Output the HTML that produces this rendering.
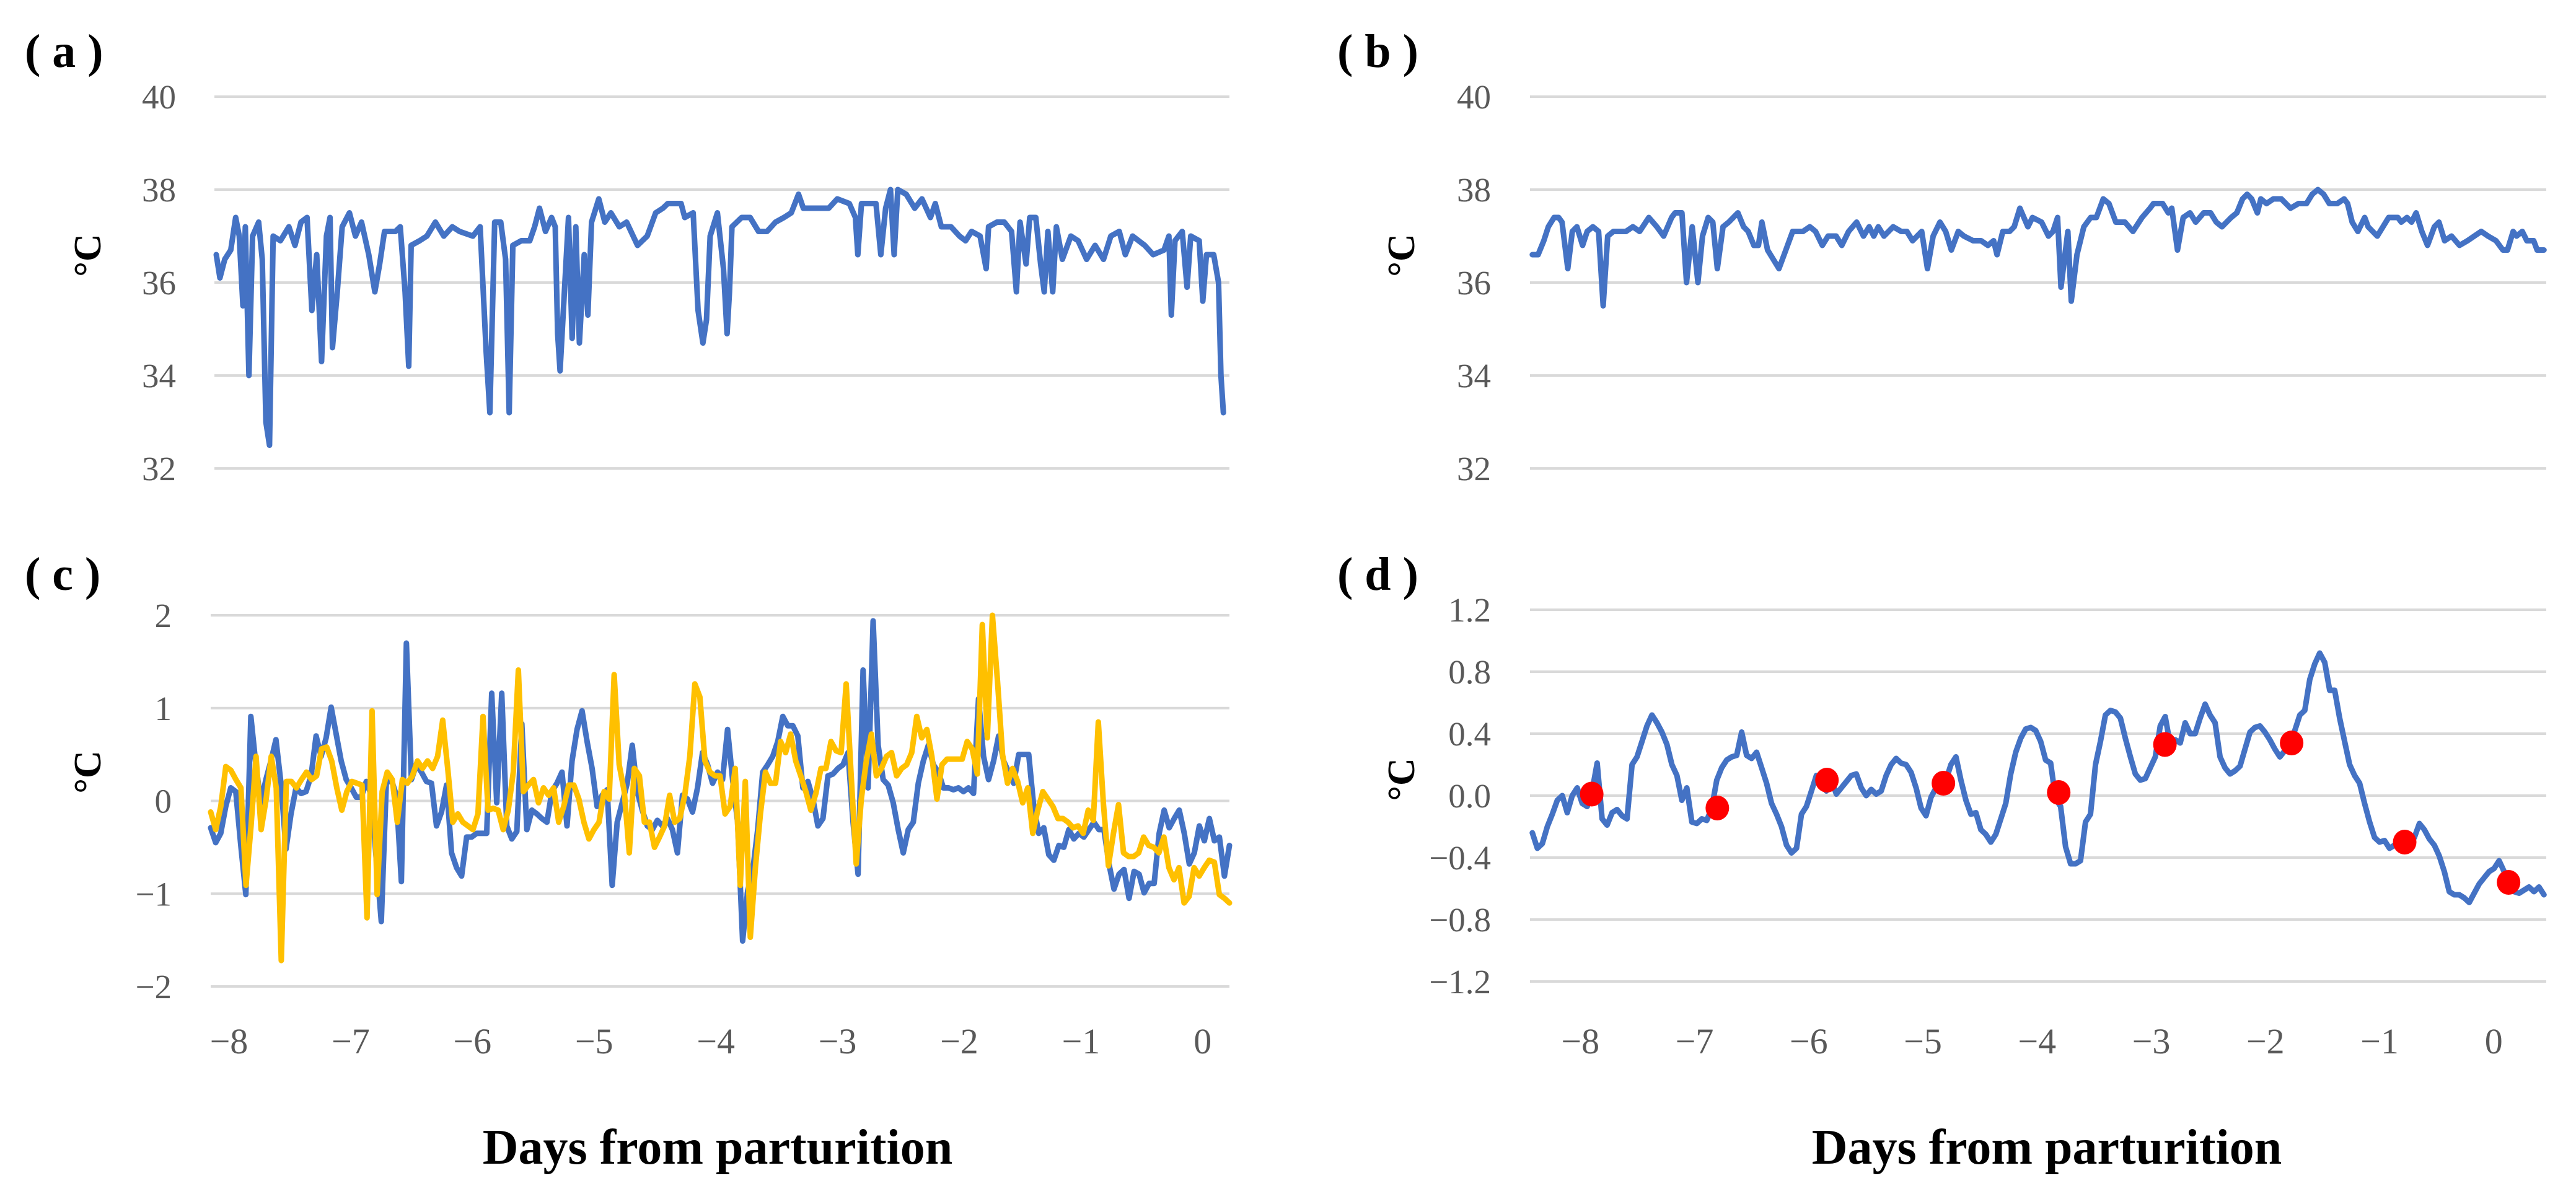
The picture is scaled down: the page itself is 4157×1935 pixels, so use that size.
<!DOCTYPE html>
<html><head><meta charset="utf-8">
<style>
html,body{margin:0;padding:0;background:#fff;}
svg{display:block;}
text{font-family:"Liberation Serif",serif;}
.tick{fill:#595959;font-size:55px;}
.plab{font-size:76px;font-weight:bold;fill:#000;}
.ylab{font-size:62px;font-weight:bold;fill:#000;}
.xtitle{font-size:80px;font-weight:bold;fill:#000;}
</style></head>
<body>
<svg id="fig" width="4157" height="1935" viewBox="0 0 4157 1935" xmlns="http://www.w3.org/2000/svg">
<text class="plab" x="40" y="108">( a )</text>
<text class="plab" x="2158" y="108">( b )</text>
<text class="plab" x="40" y="952">( c )</text>
<text class="plab" x="2158" y="952">( d )</text>
<text class="ylab" transform="translate(162,412) rotate(-90)" text-anchor="middle">°C</text>
<text class="ylab" transform="translate(2282,412) rotate(-90)" text-anchor="middle">°C</text>
<text class="ylab" transform="translate(162,1246) rotate(-90)" text-anchor="middle">°C</text>
<text class="ylab" transform="translate(2282,1258) rotate(-90)" text-anchor="middle">°C</text>
<text class="xtitle" x="1158" y="1878" text-anchor="middle">Days from parturition</text>
<text class="xtitle" x="3303" y="1878" text-anchor="middle">Days from parturition</text>
</svg>
<script>
// ---------- Panel (a) ----------
const A_TIMES=[-8.15,-8.12,-8.08,-8.03,-7.99,-7.96,-7.93,-7.91,-7.88,-7.85,-7.80,-7.77,-7.74,-7.71,-7.68,-7.62,-7.55,-7.50,-7.45,-7.40,-7.36,-7.32,-7.28,-7.24,-7.21,-7.19,-7.15,-7.11,-7.05,-7.00,-6.95,-6.89,-6.84,-6.80,-6.76,-6.67,-6.63,-6.59,-6.56,-6.54,-6.47,-6.41,-6.34,-6.27,-6.20,-6.14,-6.03,-5.97,-5.92,-5.89,-5.85,-5.80,-5.76,-5.73,-5.70,-5.63,-5.56,-5.52,-5.48,-5.43,-5.38,-5.35,-5.33,-5.31,-5.27,-5.24,-5.21,-5.18,-5.15,-5.11,-5.08,-5.05,-4.99,-4.94,-4.89,-4.82,-4.76,-4.67,-4.59,-4.52,-4.46,-4.42,-4.31,-4.28,-4.21,-4.17,-4.13,-4.10,-4.07,-4.01,-3.96,-3.93,-3.91,-3.89,-3.81,-3.74,-3.67,-3.60,-3.53,-3.46,-3.40,-3.34,-3.30,-3.19,-3.09,-3.02,-2.92,-2.87,-2.85,-2.82,-2.75,-2.70,-2.66,-2.62,-2.58,-2.55,-2.52,-2.45,-2.38,-2.32,-2.25,-2.21,-2.16,-2.08,-2.01,-1.96,-1.91,-1.84,-1.79,-1.77,-1.70,-1.64,-1.58,-1.54,-1.51,-1.46,-1.43,-1.38,-1.34,-1.31,-1.28,-1.24,-1.21,-1.16,-1.09,-1.03,-0.96,-0.89,-0.82,-0.76,-0.69,-0.64,-0.58,-0.48,-0.41,-0.32,-0.28,-0.26,-0.23,-0.17,-0.13,-0.10,-0.03,0.00,0.03,0.09,0.13,0.15,0.17];
const A_TEMPS=[36.6,36.1,36.5,36.7,37.4,37.0,35.5,37.2,34.0,37.0,37.3,36.5,33.0,32.5,37.0,36.9,37.2,36.8,37.3,37.4,35.4,36.6,34.3,37.0,37.4,34.6,35.8,37.2,37.5,37.0,37.3,36.6,35.8,36.4,37.1,37.1,37.2,35.8,34.2,36.8,36.9,37.0,37.3,37.0,37.2,37.1,37.0,37.2,34.5,33.2,37.3,37.3,36.5,33.2,36.8,36.9,36.9,37.2,37.6,37.1,37.4,37.2,34.9,34.1,36.0,37.4,34.8,37.2,34.7,36.6,35.3,37.3,37.8,37.3,37.5,37.2,37.3,36.8,37.0,37.5,37.6,37.7,37.7,37.4,37.5,35.4,34.7,35.2,37.0,37.5,36.3,34.9,35.8,37.2,37.4,37.4,37.1,37.1,37.3,37.4,37.5,37.9,37.6,37.6,37.6,37.8,37.7,37.4,36.6,37.7,37.7,37.7,36.6,37.6,38.0,36.6,38.0,37.9,37.6,37.8,37.4,37.7,37.2,37.2,37.0,36.9,37.1,37.0,36.3,37.2,37.3,37.3,37.1,35.8,37.3,36.4,37.4,37.4,36.4,35.8,37.1,35.8,37.2,36.5,37.0,36.9,36.5,36.8,36.5,37.0,37.1,36.6,37.0,36.8,36.6,36.7,37.0,35.3,36.9,37.1,35.9,37.0,36.9,35.6,36.6,36.6,36.0,34.0,33.2];
const AB_YTICKS=[40,38,36,34,32];
// ---------- Panel (b) ----------
const B_TIMES=[-8.42,-8.37,-8.32,-8.28,-8.23,-8.19,-8.16,-8.11,-8.07,-8.03,-7.98,-7.94,-7.89,-7.84,-7.80,-7.76,-7.71,-7.60,-7.54,-7.48,-7.40,-7.33,-7.27,-7.20,-7.17,-7.11,-7.07,-7.02,-6.97,-6.93,-6.88,-6.84,-6.80,-6.75,-6.70,-6.62,-6.57,-6.53,-6.48,-6.44,-6.41,-6.36,-6.31,-6.26,-6.20,-6.14,-6.05,-5.99,-5.94,-5.88,-5.83,-5.76,-5.71,-5.65,-5.58,-5.52,-5.47,-5.43,-5.39,-5.34,-5.26,-5.19,-5.14,-5.09,-5.01,-4.96,-4.91,-4.85,-4.80,-4.75,-4.69,-4.64,-4.56,-4.49,-4.43,-4.38,-4.35,-4.30,-4.24,-4.20,-4.15,-4.08,-4.04,-3.96,-3.90,-3.86,-3.82,-3.79,-3.73,-3.70,-3.65,-3.59,-3.53,-3.48,-3.42,-3.37,-3.31,-3.23,-3.16,-3.08,-3.01,-2.98,-2.90,-2.85,-2.82,-2.77,-2.72,-2.66,-2.61,-2.54,-2.48,-2.43,-2.38,-2.30,-2.25,-2.20,-2.16,-2.12,-2.07,-2.04,-1.99,-1.93,-1.86,-1.78,-1.71,-1.64,-1.59,-1.54,-1.49,-1.44,-1.37,-1.31,-1.28,-1.24,-1.19,-1.13,-1.10,-1.02,-0.97,-0.92,-0.84,-0.81,-0.76,-0.72,-0.68,-0.63,-0.58,-0.52,-0.48,-0.43,-0.37,-0.30,-0.23,-0.17,-0.11,-0.05,0.02,0.08,0.12,0.17,0.20,0.25,0.29,0.35,0.38,0.44];
const B_TEMPS=[36.6,36.6,36.9,37.2,37.4,37.4,37.3,36.3,37.1,37.2,36.8,37.1,37.2,37.1,35.5,37.0,37.1,37.1,37.2,37.1,37.4,37.2,37.0,37.4,37.5,37.5,36.0,37.2,36.0,37.0,37.4,37.3,36.3,37.2,37.3,37.5,37.2,37.1,36.8,36.8,37.3,36.7,36.5,36.3,36.7,37.1,37.1,37.2,37.1,36.8,37.0,37.0,36.8,37.1,37.3,37.0,37.2,37.0,37.2,37.0,37.2,37.1,37.1,36.9,37.1,36.3,37.0,37.3,37.1,36.7,37.1,37.0,36.9,36.9,36.8,36.9,36.6,37.1,37.1,37.2,37.6,37.2,37.4,37.3,37.0,37.1,37.4,35.9,37.1,35.6,36.6,37.2,37.4,37.4,37.8,37.7,37.3,37.3,37.1,37.4,37.6,37.7,37.7,37.5,37.6,36.7,37.4,37.5,37.3,37.5,37.5,37.3,37.2,37.4,37.5,37.8,37.9,37.8,37.5,37.8,37.7,37.8,37.8,37.6,37.7,37.7,37.9,38.0,37.9,37.7,37.7,37.8,37.7,37.3,37.1,37.4,37.2,37.0,37.2,37.4,37.4,37.3,37.4,37.3,37.5,37.1,36.8,37.2,37.3,36.9,37.0,36.8,36.9,37.0,37.1,37.0,36.9,36.7,36.7,37.1,37.0,37.1,36.9,36.9,36.7,36.7];
// ---------- Panel (c) ----------
const C_START=-8.15, C_END=0.22;
const C_BLUE=[-0.29,-0.45,-0.35,-0.06,0.14,0.10,-0.48,-1.01,0.91,0.39,-0.02,0.23,0.43,0.66,0.19,-0.52,-0.14,0.14,0.08,0.10,0.27,0.70,0.48,0.68,1.01,0.72,0.43,0.23,0.14,0.04,0.04,0.21,0.06,-0.64,-1.30,0.19,0.23,0.06,-0.87,1.70,0.23,0.39,0.31,0.21,0.19,-0.27,-0.12,0.17,-0.56,-0.72,-0.81,-0.39,-0.39,-0.35,-0.35,-0.35,1.16,-0.02,1.16,-0.27,-0.41,-0.33,0.83,-0.31,-0.10,-0.14,-0.19,-0.23,0.10,0.19,0.31,-0.27,0.43,0.77,0.97,0.64,0.35,-0.06,0.06,0.12,-0.91,-0.23,-0.02,0.19,0.60,0.10,-0.10,-0.27,-0.31,-0.21,-0.27,-0.19,-0.31,-0.56,0.06,0.02,-0.12,0.14,0.52,0.39,0.19,0.31,0.23,0.77,0.23,-0.23,-1.51,-0.97,-0.76,-0.31,0.31,0.39,0.48,0.64,0.91,0.81,0.81,0.70,0.14,0.21,0.02,-0.27,-0.19,0.27,0.29,0.35,0.39,0.52,-0.23,-0.79,1.41,0.14,1.94,0.60,0.23,0.17,-0.02,-0.31,-0.56,-0.31,-0.23,0.19,0.43,0.60,0.39,0.31,0.14,0.14,0.12,0.14,0.10,0.14,0.08,1.10,0.48,0.23,0.43,0.70,0.43,0.31,0.19,0.50,0.50,0.50,-0.06,-0.35,-0.29,-0.58,-0.64,-0.48,-0.50,-0.31,-0.41,-0.35,-0.39,-0.31,-0.23,-0.31,-0.31,-0.68,-0.95,-0.79,-0.74,-1.05,-0.76,-0.79,-0.99,-0.89,-0.89,-0.35,-0.10,-0.29,-0.19,-0.10,-0.35,-0.68,-0.56,-0.27,-0.43,-0.19,-0.43,-0.39,-0.81,-0.48];
const C_YELLOW=[-0.12,-0.31,-0.06,0.37,0.33,0.23,0.14,-0.91,-0.27,0.48,-0.31,0.02,0.48,0.14,-1.72,0.21,0.21,0.14,0.23,0.31,0.23,0.27,0.56,0.58,0.43,0.14,-0.10,0.10,0.21,0.19,0.17,-1.26,0.97,-1.01,0.10,0.31,0.23,-0.23,0.23,0.19,0.27,0.43,0.35,0.43,0.35,0.48,0.87,0.35,-0.23,-0.14,-0.23,-0.27,-0.31,-0.14,0.91,-0.10,-0.08,-0.10,-0.31,-0.10,0.31,1.41,0.10,0.17,0.23,-0.02,0.14,0.06,0.14,-0.23,-0.06,0.17,0.17,0.02,-0.23,-0.41,-0.31,-0.23,0.10,0.02,1.36,0.39,0.10,-0.56,0.35,0.27,-0.23,-0.23,-0.50,-0.39,-0.27,0.06,-0.23,-0.19,0.06,0.48,1.26,1.12,0.43,0.31,0.27,0.27,-0.14,-0.06,0.35,-0.91,0.21,-1.47,-0.72,-0.14,0.31,0.19,0.19,0.64,0.52,0.72,0.43,0.27,0.10,-0.10,0.08,0.35,0.35,0.64,0.54,0.52,1.26,0.27,-0.68,0.02,0.43,0.72,0.27,0.35,0.48,0.52,0.27,0.35,0.39,0.52,0.91,0.68,0.77,0.48,0.02,0.39,0.45,0.45,0.45,0.45,0.64,0.56,0.29,1.90,0.68,2.00,1.30,0.50,0.19,0.35,0.21,-0.02,0.14,-0.35,-0.10,0.10,0.02,-0.06,-0.19,-0.19,-0.23,-0.29,-0.27,-0.35,-0.10,-0.21,0.85,-0.02,-0.70,-0.35,-0.04,-0.56,-0.60,-0.60,-0.56,-0.39,-0.48,-0.50,-0.56,-0.39,-0.72,-0.85,-0.72,-1.10,-1.03,-0.72,-0.81,-0.72,-0.64,-0.66,-1.01,-1.05,-1.10];
const C_YTICKS=[2,1,0,-1,-2];
const C_YTICK_LABELS=["2","1","0","−1","−2"];
const X_TICKS=[-8,-7,-6,-5,-4,-3,-2,-1,0];
const X_TICK_LABELS=["−8","−7","−6","−5","−4","−3","−2","−1","0"];
// ---------- Panel (d) ----------
const D_START=-8.42, D_END=0.44;
const D_VALUES=[-0.24,-0.34,-0.31,-0.20,-0.12,-0.03,0.00,-0.11,0.00,0.05,-0.05,-0.07,0.03,0.21,-0.15,-0.19,-0.11,-0.09,-0.13,-0.15,0.20,0.25,0.35,0.45,0.52,0.47,0.41,0.33,0.20,0.13,-0.03,0.05,-0.17,-0.18,-0.15,-0.16,-0.08,0.10,0.18,0.23,0.25,0.26,0.41,0.26,0.24,0.28,0.18,0.08,-0.05,-0.12,-0.20,-0.32,-0.37,-0.34,-0.12,-0.07,0.03,0.13,0.10,0.03,0.10,0.01,0.05,0.09,0.13,0.14,0.05,0.00,0.04,0.01,0.03,0.13,0.20,0.24,0.21,0.20,0.15,0.05,-0.08,-0.13,-0.01,0.05,0.13,0.10,0.20,0.25,0.10,-0.03,-0.12,-0.11,-0.22,-0.25,-0.30,-0.25,-0.15,-0.05,0.14,0.28,0.37,0.43,0.44,0.42,0.35,0.23,0.21,-0.02,-0.07,-0.33,-0.44,-0.44,-0.42,-0.17,-0.12,0.20,0.35,0.52,0.55,0.54,0.50,0.37,0.25,0.14,0.10,0.11,0.18,0.25,0.45,0.51,0.33,0.36,0.34,0.47,0.40,0.40,0.50,0.59,0.52,0.47,0.25,0.18,0.14,0.16,0.19,0.30,0.41,0.44,0.45,0.41,0.36,0.30,0.25,0.29,0.34,0.42,0.52,0.55,0.75,0.85,0.92,0.86,0.68,0.68,0.50,0.35,0.20,0.13,0.08,-0.05,-0.17,-0.27,-0.30,-0.29,-0.34,-0.32,-0.32,-0.31,-0.32,-0.27,-0.18,-0.22,-0.28,-0.32,-0.39,-0.49,-0.62,-0.64,-0.64,-0.66,-0.69,-0.63,-0.57,-0.53,-0.49,-0.47,-0.42,-0.49,-0.58,-0.62,-0.63,-0.61,-0.59,-0.62,-0.59,-0.64];
const D_DOT_TIMES=[-7.90,-6.80,-5.84,-4.82,-3.81,-2.88,-1.77,-0.78,0.13];
const D_DOT_VALUES=[0.01,-0.08,0.10,0.08,0.02,0.33,0.34,-0.30,-0.56];
const D_YTICKS=[1.2,0.8,0.4,0.0,-0.4,-0.8,-1.2];
const D_YTICK_LABELS=["1.2","0.8","0.4","0.0","−0.4","−0.8","−1.2"];

const NS="http://www.w3.org/2000/svg";
const svg=document.getElementById('fig');
function mk(tag,attrs,parent){const e=document.createElementNS(NS,tag);for(const k in attrs)e.setAttribute(k,attrs[k]);(parent||svg).appendChild(e);return e;}
function scale(d0,d1,r0,r1){return v=>r0+(v-d0)*(r1-r0)/(d1-d0);}
function uniformTimes(start,end,n){const out=[];for(let i=0;i<n;i++)out.push(start+i*(end-start)/(n-1));return out;}

function panel(cfg){
  const g=mk('g',{});
  
  
  const x=scale(cfg.xd[0],cfg.xd[1],cfg.xr[0],cfg.xr[1]);
  const y=scale(cfg.yd[0],cfg.yd[1],cfg.yr[0],cfg.yr[1]);
  cfg.yticks.forEach((t,i)=>{
    const ln=mk('line',{x1:cfg.gx[0],x2:cfg.gx[1],y1:y(t),y2:y(t),stroke:'#d9d9d9','stroke-width':4},g);
    
    
    const tx=mk('text',{x:cfg.labelX,y:y(t)+19,'text-anchor':'end',class:'tick'},g);
    
    
    tx.textContent=cfg.ylabels[i];
  });
  if(cfg.xticks){
    cfg.xticks.forEach((t,i)=>{
      const tx=mk('text',{x:x(t),y:1700,'text-anchor':'middle',class:'tick',style:'font-size:58px'},g);
      
      
      tx.textContent=X_TICK_LABELS[i];
    });
  }
  cfg.series.forEach(s=>{
    const pts=s.t.map((t,i)=>x(t).toFixed(1)+','+y(Math.max(cfg.yd[1],Math.min(cfg.yd[0],s.v[i]))).toFixed(1)).join(' ');
    const pl=mk('polyline',{points:pts,fill:'none',stroke:s.color,'stroke-width':9,'stroke-linejoin':'round','stroke-linecap':'round'},g);
    
    
  });
  if(cfg.dots){
    cfg.dots.t.forEach((t,i)=>{
      const c=mk('ellipse',{cx:x(t),cy:y(cfg.dots.v[i]),rx:19,ry:20,fill:'#ff0000'},g);
      
      
    });
  }
}

panel({name:'chart-a',xd:[-8.15,0.22],xr:[349,1984],yd:[40,32],yr:[156,756],gx:[346,1984],labelX:284,
  yticks:AB_YTICKS,ylabels:AB_YTICKS.map(String),
  series:[{name:'temperature-line-a',t:A_TIMES,v:A_TEMPS,color:'#4472c4'}]});
panel({name:'chart-b',xd:[-8.43,0.46],xr:[2471,4109],yd:[40,32],yr:[156,756],gx:[2469,4109],labelX:2406,
  yticks:AB_YTICKS,ylabels:AB_YTICKS.map(String),
  series:[{name:'temperature-line-b',t:B_TIMES,v:B_TEMPS,color:'#4472c4'}]});
panel({name:'chart-c',xd:[-8.15,0.22],xr:[340,1984],yd:[2,-2],yr:[993,1592],gx:[340,1984],labelX:277,
  yticks:C_YTICKS,ylabels:C_YTICK_LABELS,xticks:X_TICKS,
  series:[{name:'residual-line-blue',t:uniformTimes(C_START,C_END,C_BLUE.length),v:C_BLUE,color:'#4472c4'},
          {name:'residual-line-yellow',t:uniformTimes(C_START,C_END,C_YELLOW.length),v:C_YELLOW,color:'#ffc000'}]});
panel({name:'chart-d',xd:[-8.43,0.46],xr:[2471,4109],yd:[1.2,-1.2],yr:[984,1584],gx:[2469,4109],labelX:2406,
  yticks:D_YTICKS,ylabels:D_YTICK_LABELS,xticks:X_TICKS,
  series:[{name:'smoothed-residual-line',t:uniformTimes(D_START,D_END,D_VALUES.length),v:D_VALUES,color:'#4472c4'}],
  dots:{t:D_DOT_TIMES,v:D_DOT_VALUES}});
</script>
</body></html>
